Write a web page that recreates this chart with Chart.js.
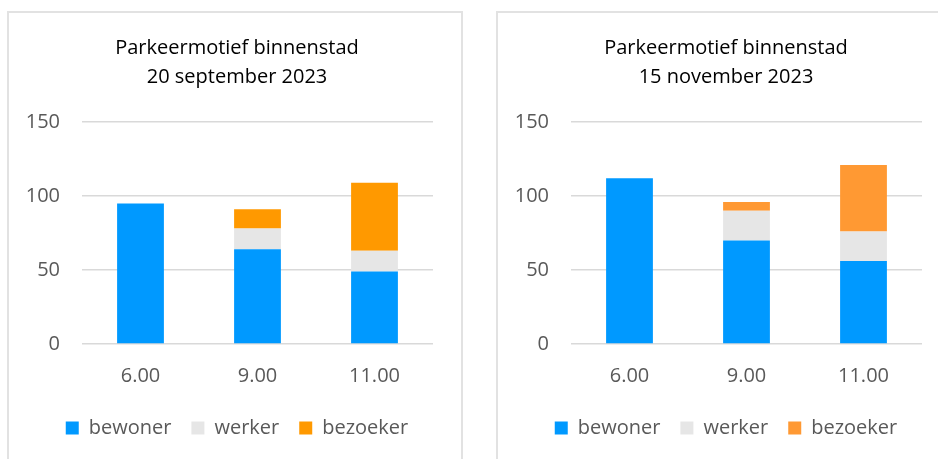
<!DOCTYPE html>
<html>
<head>
<meta charset="utf-8">
<script src="https://cdn.jsdelivr.net/npm/chart.js@4"></script>
<style>
  html, body { margin: 0; padding: 0; background: #fff; width: 938px; height: 459px; overflow: hidden; }
  .panel { position: absolute; border: 2px solid #e2e2e2; box-sizing: border-box; background: #fff; }
  canvas { position: absolute; }
</style>
</head>
<body>
<div class="panel" style="left:7px; top:11px; width:456px; height:470px;"></div>
<div class="panel" style="left:496px; top:11px; width:460px; height:470px;"></div>
<canvas id="c1" width="450" height="445" style="left:10px; top:14px;"></canvas>
<canvas id="c2" width="450" height="445" style="left:499px; top:14px;"></canvas>
<script>
const categories = ['6.00', '9.00', '11.00'];
const seriesNames = ['bewoner', 'werker', 'bezoeker'];
const yTicks = [0, 50, 100, 150];

const titleSep = ['Parkeermotief binnenstad', '20 september 2023'];
const bewonerSep = [95, 64, 49];
const werkerSep = [0, 14, 14];
const bezoekerSep = [0, 13, 46];

const titleNov = ['Parkeermotief binnenstad', '15 november 2023'];
const bewonerNov = [112, 70, 56];
const werkerNov = [0, 20, 20];
const bezoekerNov = [0, 6, 45];

const FONT = "'Open Sans', 'Noto Sans', sans-serif";

function makeChart(id, title, bew, wer, bez, orange) {
  return new Chart(document.getElementById(id), {
    type: 'bar',
    data: {
      labels: categories,
      datasets: [
        { label: seriesNames[0], data: bew, backgroundColor: '#0099ff' },
        { label: seriesNames[1], data: wer, backgroundColor: '#e6e6e6' },
        { label: seriesNames[2], data: bez, backgroundColor: orange }
      ]
    },
    options: {
      responsive: false,
      animation: false,
      devicePixelRatio: 1,
      layout: { padding: { left: 4, right: 0, top: 0, bottom: 11 } },
      datasets: { bar: { barPercentage: 0.8, categoryPercentage: 0.5 } },
      plugins: {
        title: {
          display: true,
          text: title,
          color: '#000000',
          font: { family: FONT, size: 20, weight: 'normal', lineHeight: 1.45 },
          padding: { top: 19.5, bottom: 30.5 }
        },
        legend: {
          display: true,
          position: 'bottom',
          labels: {
            color: '#595959',
            font: { family: FONT, size: 20 },
            boxWidth: 13,
            boxHeight: 13,
            padding: 20
          }
        },
        tooltip: { enabled: false }
      },
      scales: {
        x: {
          stacked: true,
          grid: { display: false, drawTicks: false },
          border: { display: false },
          ticks: { color: '#595959', font: { family: FONT, size: 20 }, padding: 20 },
          afterFit: (s) => { s.height = 54; }
        },
        y: {
          stacked: true,
          min: 0,
          max: 150,
          afterBuildTicks: (s) => { s.ticks = yTicks.map(v => ({ value: v })); },
          grid: { color: '#d9d9d9', lineWidth: 1.5, drawTicks: false },
          border: { display: false },
          ticks: { color: '#595959', font: { family: FONT, size: 20 }, padding: 22 },
          afterFit: (s) => { s.width = 68; }
        },
        yRight: {
          type: 'linear',
          position: 'right',
          display: true,
          grid: { display: false, drawTicks: false },
          border: { display: false },
          ticks: { display: false },
          afterFit: (s) => { s.width = 27; }
        }
      }
    }
  });
}

makeChart('c1', titleSep, bewonerSep, werkerSep, bezoekerSep, '#ff9900');
makeChart('c2', titleNov, bewonerNov, werkerNov, bezoekerNov, '#ff9933');
</script>
</body>
</html>
